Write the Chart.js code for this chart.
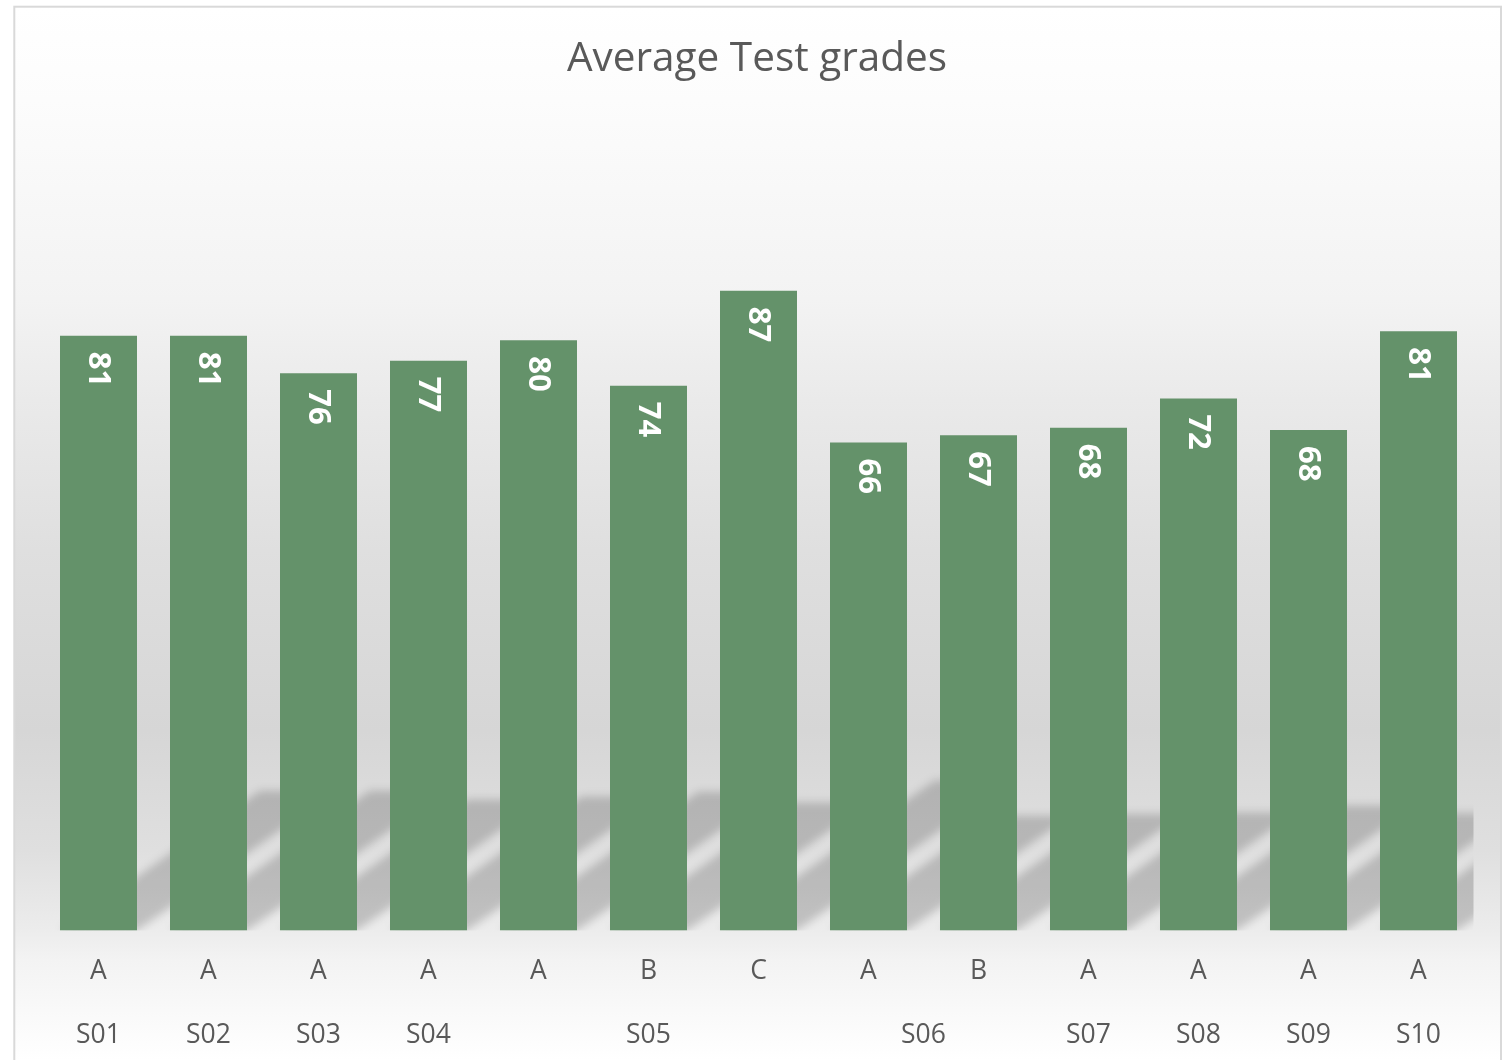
<!DOCTYPE html>
<html>
<head>
<meta charset="utf-8">
<script src="https://cdn.jsdelivr.net/npm/chart.js@4.4.1/dist/chart.umd.min.js"></script>
<style>
html,body{margin:0;padding:0;background:#ffffff;overflow:hidden}
#wrap{width:1503px;height:1060px;position:relative}
</style>
</head>
<body>
<div id="wrap"><canvas id="c" width="1503" height="1060"></canvas></div>
<script>
// ---- data ----
const chartTitle = 'Average Test grades';
const gradeLabels = ['A','A','A','A','A','B','C','A','B','A','A','A','A'];
const studentLabels = ['S01','S02','S03','S04','S05','S06','S07','S08','S09','S10'];
const studentSpans = [1,1,1,1,3,2,1,1,1,1];
const averageGrades = [80.7,80.7,75.6,77.3,80.1,73.9,86.8,66.2,67.2,68.2,72.2,67.9,81.3];
const yMin = 0, yMax = 100;

// group centres (in category index units) derived from spans
const groupCenters = [];
(function(){ let s = 0; studentSpans.forEach(n => { groupCenters.push(s + (n - 1) / 2); s += n; }); })();

const FONT = '"Open Sans", "Noto Sans", sans-serif';
const TEXT_COLOR = '#595959';
const BAR_COLOR = '#64926A';

const backgroundPlugin = {
  id: 'bg',
  beforeDraw(chart) {
    const ctx = chart.ctx;
    const H = chart.height;
    ctx.save();
    ctx.fillStyle = '#ffffff';
    ctx.fillRect(0, 0, chart.width, H);
    const g = ctx.createLinearGradient(0, 7, 0, H);
    const stop = (y, c) => g.addColorStop(Math.min(1, Math.max(0, (y - 7) / (H - 7))), c);
    stop(7, '#ffffff');
    stop(100, '#fcfcfc');
    stop(300, '#f3f3f3');
    stop(400, '#eaeaea');
    stop(550, '#dfdfdf');
    stop(730, '#d6d6d6');
    stop(850, '#dfdfdf');
    stop(930, '#ececec');
    stop(960, '#f3f3f3');
    stop(1060, '#ffffff');
    ctx.fillStyle = g;
    ctx.fillRect(14, 7, 1487, H);
    ctx.strokeStyle = '#d9d9d9';
    ctx.lineWidth = 2;
    ctx.strokeRect(14.3, 6.7, 1486.7, H + 20);
    ctx.restore();
  }
};

const shadowPlugin = {
  id: 'barShadow',
  beforeDatasetsDraw(chart) {
    const ctx = chart.ctx;
    const a = chart.chartArea;
    const meta = chart.getDatasetMeta(0);
    ctx.save();
    ctx.beginPath();
    ctx.rect(a.left, a.top, a.right - a.left, a.bottom - a.top);
    ctx.clip();
    ctx.filter = 'blur(4px)';
    ctx.fillStyle = 'rgba(0,0,0,0.18)';
    ctx.beginPath();
    meta.data.forEach(bar => {
      const p = bar.getProps(['x', 'y', 'base', 'width'], true);
      const h = p.base - p.y;
      const dx = h * 0.336, dy = h * 0.235;
      const x0 = p.x - p.width / 2, x1 = p.x + p.width / 2;
      ctx.moveTo(x0, p.base);
      ctx.lineTo(x1, p.base);
      ctx.lineTo(x1 + dx, p.base - dy);
      ctx.lineTo(x0 + dx, p.base - dy);
      ctx.closePath();
    });
    ctx.fill();
    ctx.restore();
  }
};

const valueLabelPlugin = {
  id: 'valueLabels',
  afterDatasetsDraw(chart) {
    const ctx = chart.ctx;
    const meta = chart.getDatasetMeta(0);
    const data = chart.data.datasets[0].data;
    ctx.save();
    ctx.fillStyle = '#ffffff';
    ctx.font = 'bold 31px ' + FONT;
    ctx.textAlign = 'left';
    ctx.textBaseline = 'middle';
    meta.data.forEach((bar, i) => {
      const p = bar.getProps(['x', 'y'], true);
      ctx.save();
      ctx.translate(p.x - 1, p.y + 16);
      ctx.rotate(Math.PI / 2);
      ctx.fillText(String(Math.round(data[i])), 0, 0);
      ctx.restore();
    });
    ctx.restore();
  }
};

new Chart(document.getElementById('c'), {
  type: 'bar',
  data: {
    labels: gradeLabels,
    datasets: [{
      data: averageGrades,
      backgroundColor: BAR_COLOR,
      borderWidth: 0,
      barPercentage: 0.7,
      categoryPercentage: 1.0
    }]
  },
  options: {
    responsive: false,
    animation: false,
    events: [],
    devicePixelRatio: 1,
    layout: { padding: { top: 7, left: 13, right: 2, bottom: 0 } },
    plugins: {
      legend: { display: false },
      tooltip: { enabled: false },
      title: {
        display: true,
        text: chartTitle,
        color: TEXT_COLOR,
        font: { family: FONT, size: 40.5, weight: 'normal' },
        padding: { top: 28.3, bottom: 109.6 }
      }
    },
    scales: {
      x: {
        type: 'category',
        position: 'bottom',
        offset: true,
        grid: { display: false, drawTicks: false },
        border: { display: false },
        ticks: { color: TEXT_COLOR, font: { family: FONT, size: 26.5 }, padding: 25.5, autoSkip: false, maxRotation: 0 },
        afterFit(s) { s.height = 62; }
      },
      x2: {
        type: 'linear',
        position: 'bottom',
        offset: false,
        min: -0.5,
        max: 12.5,
        grid: { display: false, drawTicks: false, offset: false },
        border: { display: false },
        ticks: {
          color: TEXT_COLOR, font: { family: FONT, size: 26.5 }, padding: 27, autoSkip: false, maxRotation: 0,
          callback: (v, i) => studentLabels[i]
        },
        afterBuildTicks(s) { s.ticks = groupCenters.map(v => ({ value: v })); },
        afterFit(s) { s.height = 67.5; }
      },
      y: {
        min: yMin,
        max: yMax,
        ticks: { display: false },
        grid: { display: false, drawTicks: false },
        border: { display: false },
        afterFit(s) { s.width = 30.5; }
      },
      yR: {
        position: 'right',
        min: 0,
        max: 1,
        ticks: { display: false },
        grid: { display: false, drawTicks: false },
        border: { display: false },
        afterFit(s) { s.width = 27.5; }
      }
    }
  },
  plugins: [backgroundPlugin, shadowPlugin, valueLabelPlugin]
});
</script>
</body>
</html>
